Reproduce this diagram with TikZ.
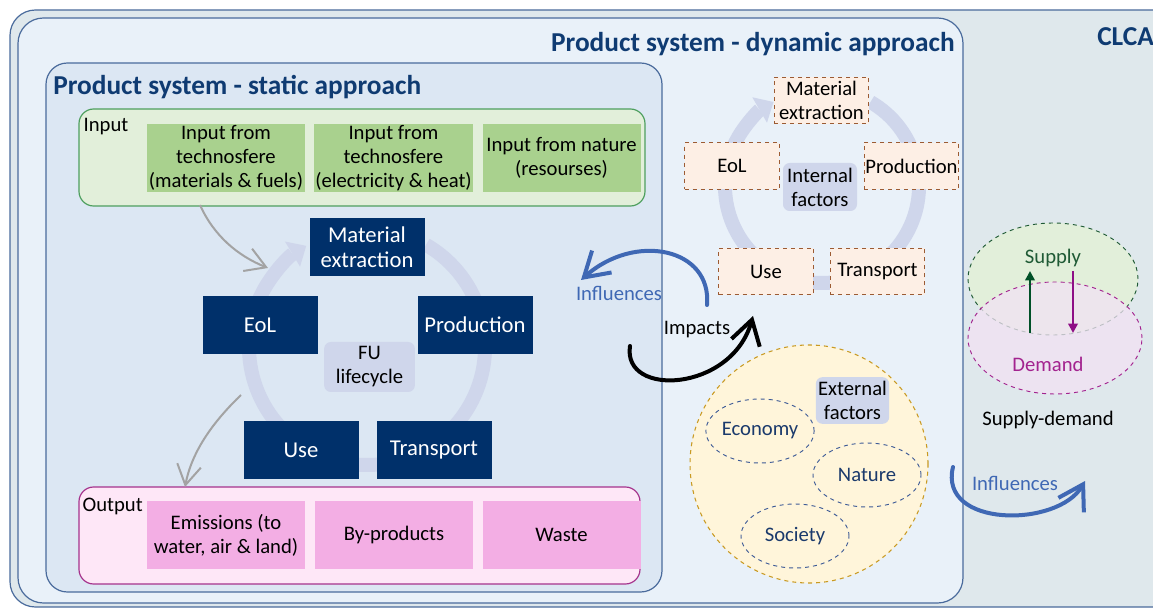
\documentclass[tikz,border=0pt]{standalone}
\usepackage{fontspec}
\setmainfont{Carlito}
\usepackage{xcolor}
\usetikzlibrary{arrows.meta,shapes.geometric}
\definecolor{ClcaFill}{HTML}{DFE8EC}
\definecolor{FrameBlue}{HTML}{4A6B9C}
\definecolor{DynFill}{HTML}{E9F1F9}
\definecolor{StatFill}{HTML}{DCE7F3}
\definecolor{TitleNavy}{HTML}{0F3B72}
\definecolor{InEdge}{HTML}{4E9F5E}
\definecolor{InFill}{HTML}{E2EFDA}
\definecolor{InBox}{HTML}{A9D18E}
\definecolor{OutEdge}{HTML}{A5338C}
\definecolor{OutFill}{HTML}{FEE7F7}
\definecolor{OutBox}{HTML}{F3AEE4}
\definecolor{StageNavy}{HTML}{00306A}
\definecolor{RingLav}{HTML}{CFD6EB}
\definecolor{PeachFill}{HTML}{FDEFE5}
\definecolor{PeachEdge}{HTML}{9C5B33}
\definecolor{ExtFill}{HTML}{FFF5DA}
\definecolor{ExtEdge}{HTML}{C99A22}
\definecolor{SphereEdge}{HTML}{3E5B96}
\definecolor{SphereText}{HTML}{1B3A6C}
\definecolor{SupFill}{HTML}{E2EFDA}
\definecolor{SupEdge}{HTML}{1F5A35}
\definecolor{DemFill}{HTML}{F2E2F4}
\definecolor{DemEdge}{HTML}{A3238F}
\definecolor{InflBlue}{HTML}{3F68B4}
\definecolor{ArrowGray}{HTML}{A3A3A3}
\definecolor{SupArrow}{HTML}{005027}
\definecolor{DemArrow}{HTML}{8E0E86}
\tikzset{
  frame/.style={draw=FrameBlue, line width=0.9pt},
  title/.style={font=\fontsize{20.5}{23}\selectfont\bfseries, text=TitleNavy, inner sep=0pt},
  group/.style={rounded corners=11pt, line width=0.9pt, minimum height=72.75pt},
  flow box/.style={minimum width=118.5pt, minimum height=51pt, inner sep=1pt,
    align=center, font=\fontsize{15.5}{18}\selectfont},
  stage box/.style={fill=StageNavy, text=white, minimum width=86.25pt,
    minimum height=43.5pt, inner sep=1pt, align=center, font=\fontsize{17}{18.75}\selectfont},
  factor box/.style={draw=PeachEdge, fill=PeachFill, dashed, line width=0.7pt,
    minimum width=71pt, minimum height=35pt, inner sep=1pt, align=center,
    font=\fontsize{15.5}{18}\selectfont},
  hub/.style={fill=RingLav, rounded corners=5pt, inner sep=1pt, align=center,
    font=\fontsize{15.5}{18}\selectfont},
  ring/.style={draw=RingLav, line width=10.5pt,
    -{Triangle[length=12pt, width=22pt, line width=0pt]}},
  feed/.style={draw=ArrowGray, line width=1.5pt,
    -{Straight Barb[length=15pt, width=18pt]}},
  ink/.style={line width=3pt, line cap=round,
    -{Straight Barb[length=18pt, width=22pt]}},
  sphere/.style={ellipse, draw=SphereEdge, dashed, line width=0.7pt, text=SphereText,
    minimum width=81pt, minimum height=48pt, inner sep=0pt, font=\fontsize{15.5}{18}\selectfont},
  plain/.style={font=\fontsize{15.5}{18}\selectfont, inner sep=1pt},
  sd arrow/.style={line width=2.2pt, -{Triangle[length=7pt, width=7pt]}}
}
\begin{document}
\begin{tikzpicture}[x=0.75pt, y=-0.75pt]
  \useasboundingbox (0,0) rectangle (1153,609);

  % nested system frames
  \draw[frame, fill=ClcaFill, rounded corners=19pt] (10,10) rectangle (1180,607);
  \draw[frame, fill=DynFill, rounded corners=19pt] (18,18) rectangle (963,603);
  \draw[frame, fill=StatFill, rounded corners=16pt] (46,63) rectangle (662,592);

  \node[title, anchor=west] (stat-title) at (53,87) {Product system - static approach};
  \node[title, anchor=east] (dyn-title) at (955,44) {Product system - dynamic approach};
  \node[title, anchor=west] (clca-title) at (1097,37) {CLCA};

  % inputs
  \node[group, draw=InEdge, fill=InFill, minimum width=424.5pt] (input) at (362,157.5) {};
  \node[plain, anchor=west] (input-lbl) at (82,127) {Input};
  \node[flow box, fill=InBox] (tech-mat) at (226,158) {Input from\\technosfere\\(materials \& fuels)};
  \node[flow box, fill=InBox] (tech-el) at (393.5,158) {Input from\\technosfere\\(electricity \& heat)};
  \node[flow box, fill=InBox] (nature-in) at (561.5,158) {Input from nature\\(resourses)};

  % outputs
  \node[group, draw=OutEdge, fill=OutFill, minimum width=420.75pt] (output) at (359.5,535.5) {};
  \node[plain, anchor=west] (output-lbl) at (81,506) {Output};
  \node[flow box, fill=OutBox] (emis) at (226,535) {Emissions (to\\water, air \& land)};
  \node[flow box, fill=OutBox] (byprod) at (394,535) {By-products};
  \node[flow box, fill=OutBox] (waste) at (561.5,535) {Waste};

  % static lifecycle
  \coordinate (stat-c) at (367,347);
  \draw[ring] (stat-c) ++(-60:118) arc[start angle=-60, end angle=239, radius=118];
  \node[stage box] (mat) at (367,247) {Material\\extraction};
  \node[stage box] (eol) at (260,325) {EoL};
  \node[stage box] (prod) at (475,325) {Production};
  \node[stage box] (use) at (301,450) {Use};
  \node[stage box] (trans) at (434,450) {Transport};
  \node[hub, minimum width=68pt, minimum height=37.5pt] (fu) at (369.5,367) {FU\\lifecycle};

  \coordinate (feed-a) at (200,205);
  \coordinate (feed-b) at (268,268);
  \draw[feed] (feed-a) .. controls (214,236) and (238,256) .. (feed-b);
  \coordinate (drain-a) at (241,395);
  \coordinate (drain-b) at (185,487);
  \draw[feed] (drain-a) .. controls (215,420) and (192,450) .. (drain-b);

  % dynamic lifecycle
  \coordinate (dyn-c) at (822,186);
  \draw[ring] (dyn-c) ++(-60:97) arc[start angle=-60, end angle=240, radius=97];
  \node[factor box] (d-mat) at (821.5,100.5) {Material\\extraction};
  \node[factor box] (d-eol) at (732,166) {EoL};
  \node[factor box] (d-prod) at (911.5,166) {Production};
  \node[factor box] (d-use) at (766,271.5) {Use};
  \node[factor box] (d-trans) at (877.5,271.5) {Transport};
  \node[hub, minimum width=55.5pt, minimum height=36pt] (internal) at (820,187) {Internal\\factors};

  % external factors
  \node[circle, draw=ExtEdge, fill=ExtFill, dashed, line width=0.8pt,
    minimum size=178.5pt, inner sep=0pt] (ext) at (809,464) {};
  \node[hub, minimum width=55pt, minimum height=35pt] (external) at (852.5,400.5) {External\\factors};
  \node[sphere] (economy) at (760,431) {Economy};
  \node[sphere] (nature) at (867,475) {Nature};
  \node[sphere] (society) at (795,536) {Society};

  % influences and impacts
  \coordinate (infl-a) at (707,305);
  \coordinate (infl-b) at (581,280);
  \draw[ink, InflBlue] (infl-a) .. controls (712,248) and (635,232) .. (infl-b);
  \node[plain, text=InflBlue] (infl-lbl) at (619,293) {Influences};

  \coordinate (imp-a) at (630,346);
  \coordinate (imp-b) at (753,316);
  \draw[ink] (imp-a) .. controls (622,398) and (732,392) .. (imp-b);
  \node[plain] (imp-lbl) at (697,330) {Impacts};

  \coordinate (infl2-a) at (953,467);
  \coordinate (infl2-b) at (1085,481);
  \draw[ink, InflBlue] (infl2-a) .. controls (938,528) and (1058,528) .. (infl2-b);
  \node[plain, text=InflBlue] (infl2-lbl) at (1015,483) {Influences};

  % supply and demand
  \node[ellipse, draw=SupEdge, fill=SupFill, dashed, line width=0.7pt,
    minimum width=127.5pt, minimum height=84pt] (supply) at (1053,279) {};
  \node[ellipse, draw=DemEdge, fill=DemFill, fill opacity=0.75, dashed, line width=0.7pt,
    minimum width=130.5pt, minimum height=84pt] (demand) at (1055,338) {};
  \node[plain, text=SupEdge] (supply-lbl) at (1053,258) {Supply};
  \node[plain, text=DemEdge] (demand-lbl) at (1048,364) {Demand};
  \coordinate (sup-lo) at (1030,333);
  \coordinate (sup-hi) at (1030,271);
  \coordinate (dem-hi) at (1073,271);
  \coordinate (dem-lo) at (1073,333);
  \draw[sd arrow, SupArrow] (sup-lo) -- (sup-hi);
  \draw[sd arrow, DemArrow] (dem-hi) -- (dem-lo);
  \node[plain] (sd-lbl) at (1048,420) {Supply-demand};
\end{tikzpicture}
\end{document}
